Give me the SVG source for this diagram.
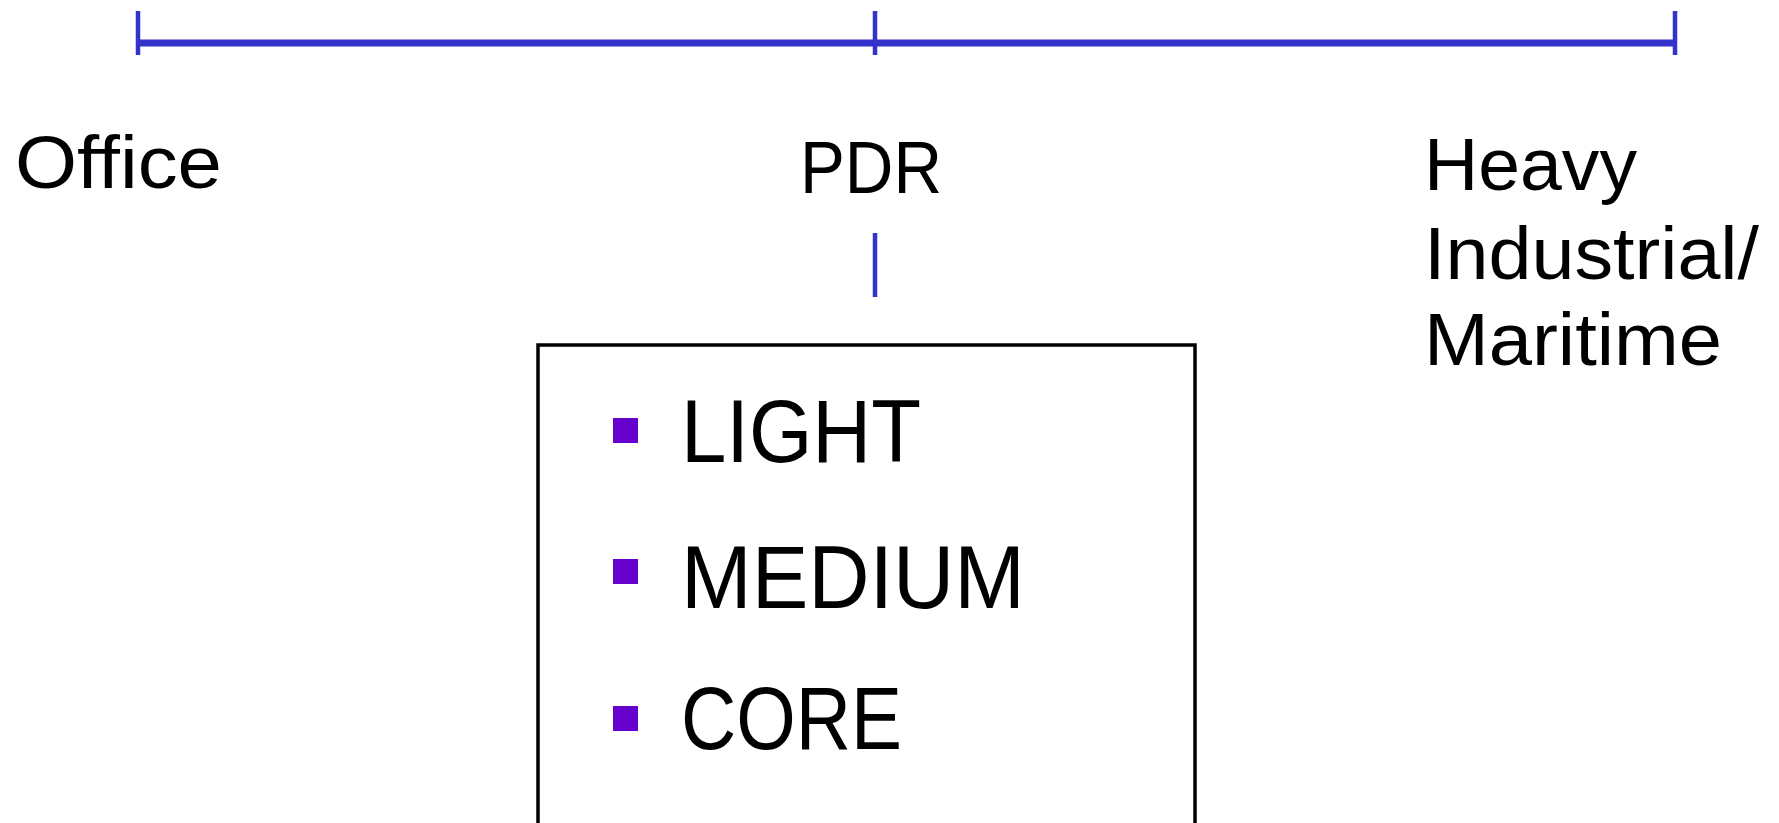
<svg xmlns="http://www.w3.org/2000/svg" width="1779" height="823" viewBox="0 0 1779 823">
  <style>
    .axis { stroke: #3333CC; stroke-width: 7; fill: none; }
    .tick { stroke: #3333CC; stroke-width: 4.5; fill: none; }
    .label { font-family: "Liberation Sans", Arial, sans-serif; font-size: 74px; fill: #000000; }
    .item { font-family: "Liberation Sans", Arial, sans-serif; font-size: 89px; fill: #000000; }
    .bullet { fill: #6600CC; }
    .box { fill: #FFFFFF; stroke: #000000; stroke-width: 3.5; }
  </style>
  <rect width="1779" height="823" fill="#FFFFFF"/>

  <!-- scale bar with end and middle ticks -->
  <g id="connectors">
    <line class="axis" x1="138" y1="43" x2="1675" y2="43"/>
    <line class="tick" x1="138" y1="11" x2="138" y2="55"/>
    <line class="tick" x1="875" y1="11" x2="875" y2="55"/>
    <line class="tick" x1="1675" y1="11" x2="1675" y2="55"/>
    <line class="tick" x1="875" y1="233" x2="875" y2="297"/>
  </g>

  <g id="office">
    <text class="label" x="15" y="188" textLength="207" lengthAdjust="spacingAndGlyphs">Office</text>
  </g>

  <g id="pdr">
    <text class="label" x="800" y="193" textLength="142" lengthAdjust="spacingAndGlyphs">PDR</text>
  </g>

  <g id="heavy-industrial">
    <text class="label" x="1424" y="190" textLength="213" lengthAdjust="spacingAndGlyphs">Heavy</text>
    <text class="label" x="1424" y="279" textLength="335" lengthAdjust="spacingAndGlyphs">Industrial/</text>
    <text class="label" x="1424" y="365" textLength="298" lengthAdjust="spacingAndGlyphs">Maritime</text>
  </g>

  <!-- PDR sub-categories -->
  <g id="pdr-types">
    <rect class="box" x="538" y="345" width="657" height="500"/>
    <rect class="bullet" x="613" y="418" width="25" height="25"/>
    <text class="item" x="681" y="462" textLength="240" lengthAdjust="spacingAndGlyphs">LIGHT</text>
    <rect class="bullet" x="613" y="559" width="25" height="25"/>
    <text class="item" x="681" y="608" textLength="344" lengthAdjust="spacingAndGlyphs">MEDIUM</text>
    <rect class="bullet" x="613" y="706" width="25" height="25"/>
    <text class="item" x="681" y="749" textLength="221" lengthAdjust="spacingAndGlyphs">CORE</text>
  </g>
</svg>
